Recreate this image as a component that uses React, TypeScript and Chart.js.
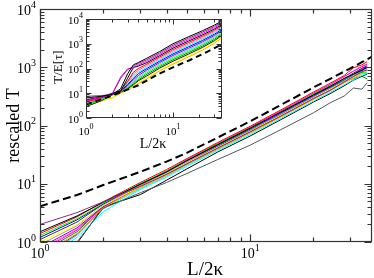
import React, { useEffect, useRef } from 'react';
import { Chart, registerables } from 'chart.js';

Chart.register(...registerables);

const SERIF = '"Liberation Serif", "DejaVu Serif", serif';

// ---------- main panel data ----------
const MAIN_X = [1, 1.5, 2, 3, 4, 5, 7, 10, 14, 20, 24, 28, 31, 34, 36];
const MAIN_DASH_X = [1, 1.5, 2, 3, 4, 5, 7, 10, 14, 20, 25, 30, 34, 38];
const MAIN_DASH_Y = [4.1, 6.4, 9.5, 16, 24, 34, 62, 118, 225, 450, 680, 960, 1220, 1520];

const M_COLORS = [
  '#8b2a8b', '#000000', '#ff0000', '#00ff00', '#0000ff', '#ffff00', '#bc8f8f', '#555555', '#9400d3',
  '#00ffff', '#ff00ff', '#ffa500', '#7220bc', '#000000', '#40e0d0', '#008b00', '#ff69b4', '#333333',
];
const M1 = [2.0, 3.2, 4.9, 9.0, 14.5, 22, 41, 78, 145, 290, 400, 560, 690, 830, 900];
const M2 = [1.5, 2.8, 4.8, 9.8, 16, 25, 47, 90, 170, 335, 470, 640, 760, 880, 1000];
const M3 = [1.4, 2.7, 4.9, 10.5, 17.5, 27, 51, 97, 185, 375, 530, 720, 980, 1100, 1240];
const M4 = [1.3, 2.5, 4.6, 10, 16.5, 25.5, 48, 90, 170, 345, 480, 620, 760, 820, 780];
const M5 = [1.2, 2.4, 4.5, 9.9, 16, 25, 46, 87, 164, 325, 455, 610, 750, 900, 990];
const M6 = [1.0, 2.0, 4.2, 9.0, 15, 23, 42, 80, 150, 300, 420, 570, 680, 820, 880];
const M7 = [0.9, 1.9, 4.3, 9.4, 15.5, 24, 45, 84, 158, 315, 440, 600, 720, 860, 950];
const M8 = [0.35, 1.0, 3.8, 7.0, 10.5, 15, 26, 46, 85, 165, 245, 320, 440, 420, 540];
const M9 = [0.8, 1.75, 4.1, 9.2, 15, 23.5, 44, 83, 156, 308, 435, 600, 760, 930, 1020];
const M10 = [0.45, 1.2, 3.3, 8.0, 13, 20, 37, 70, 132, 262, 370, 500, 610, 720, 780];
const M11 = [0.7, 1.6, 4.0, 9.7, 16.5, 26, 49, 93, 176, 355, 500, 690, 850, 1020, 1120];
const M12 = [0.6, 1.4, 3.9, 8.6, 14, 21.5, 39, 74, 140, 280, 395, 540, 650, 780, 860];
const M13 = [0.55, 1.35, 3.9, 9.0, 14.5, 22, 41, 78, 148, 296, 415, 565, 690, 840, 900];
const M14 = [0.3, 0.95, 4.0, 6.5, 11.5, 18, 35, 66, 126, 252, 352, 480, 600, 700, 760];
const M15 = [0.5, 1.3, 3.7, 8.3, 13.5, 21, 39, 75, 142, 284, 400, 545, 650, 770, 830];
const M16 = [0.65, 1.5, 4.1, 9.3, 15, 23, 44, 82, 155, 310, 430, 575, 640, 700, 630];
const M17 = [0.75, 1.65, 4.2, 9.8, 16.5, 26, 49, 93, 178, 360, 505, 690, 870, 1050, 1150];
const M18 = [1.1, 2.2, 4.5, 9.6, 16, 25, 47, 89, 168, 338, 470, 640, 790, 960, 1060];
const MAIN_SERIES = [M1, M2, M3, M4, M5, M6, M7, M8, M9, M10, M11, M12, M13, M14, M15, M16, M17, M18];

// ---------- inset data ----------
const IN_X = [1, 1.5, 2, 2.5, 3, 3.5, 4, 5, 7, 10, 15, 22, 30, 36.5];
const IN_DASH_X = [1, 2, 3, 4, 6.5, 10.8, 15.7, 25, 36.5];
const IN_DASH_Y = [3.5, 8, 14, 21, 55, 126, 220, 480, 950];

const I_COLORS = [
  '#000000', '#8b2a8b', '#ff00ff', '#000000', '#ff0000', '#ff69b4', '#00ffff', '#0000ff',
  '#9400d3', '#40e0d0', '#00ff00', '#008b00', '#1a1a1a', '#ffff00', '#ffa500',
];
const I1 = [6.5, 7.5, 9, 15, 60, 140, 175, 260, 480, 1000, 1900, 3400, 5700, 8300];
const I2 = [7.5, 8, 9, 40, 90, 120, 160, 227, 422, 873, 1663, 2985, 5050, 7430];
const I3 = [5, 7, 9.5, 45, 95, 105, 140, 198, 371, 762, 1452, 2624, 4477, 6637];
const I4 = [5.5, 7, 10, 12, 40, 110, 125, 172, 327, 666, 1270, 2307, 3963, 5943];
const I5 = [4.5, 6.5, 9.5, 13, 30, 70, 100, 150, 288, 581, 1110, 2028, 3516, 5321];
const I6 = [4.2, 6.2, 9.5, 12.5, 28, 60, 85, 131, 253, 508, 970, 1786, 3112, 4753];
const I7 = [4, 6, 9.5, 13, 25, 50, 72, 114, 223, 443, 849, 1570, 2761, 4256];
const I8 = [3.8, 6, 9.5, 12.5, 22, 40, 62, 100, 196, 387, 741, 1380, 2443, 3811];
const I9 = [5, 6.5, 9.5, 12, 20, 35, 52, 87, 172, 338, 649, 1213, 2168, 3412];
const I10 = [3.6, 5.8, 9.2, 12, 18, 30, 45, 76, 152, 295, 567, 1067, 1919, 3048];
const I11 = [3.2, 5.5, 9, 12, 17, 27, 40, 66, 133, 258, 495, 938, 1702, 2729];
const I12 = [3.5, 5.5, 9, 11.5, 16, 24, 35, 58, 117, 225, 433, 824, 1507, 2443];
const I13 = [2.9, 5, 8.5, 11, 15, 22, 32, 50, 103, 197, 378, 725, 1337, 2183];
const I14 = [3.3, 5, 6.3, 11, 15, 20, 28, 44, 91, 172, 331, 637, 1183, 1954];
const I15 = [3, 4.8, 6.5, 10, 14, 18, 25, 38, 80, 150, 290, 560, 1050, 1750];
const INSET_SERIES = [I1, I2, I3, I4, I5, I6, I7, I8, I9, I10, I11, I12, I13, I14, I15];

// tick labels (value, exponent)
const X_TICK_LABELS: [number, string][] = [[1, '0'], [10, '1']];
const Y_TICK_LABELS: [number, string][] = [[1, '0'], [10, '1'], [100, '2'], [1000, '3'], [10000, '4']];

type FrameCfg = {
  frameColor: string;
  frameWidth: number;
  major: number;
  minor: number;
  baseFont: string;
  supFont: string;
  supRaise: number;
  xLabelBaseline: number;
  yLabelRight: number;
  yLabelDy: number;
  xTitle: { text: string; x: number | null; y: number; font: string };
  yTitle: { text: string; x: number; y: number | null; font: string };
};

function framePlugin(cfg: FrameCfg) {
  return {
    id: 'frameTicks',
    afterDraw(chart: any) {
      const ctx: CanvasRenderingContext2D = chart.ctx;
      const a = chart.chartArea;
      const xs = chart.scales.x;
      const ys = chart.scales.y;
      const L = Math.round(a.left) + 0.5;
      const R = Math.round(a.right) - 0.5;
      const T = Math.round(a.top) + 0.5;
      const B = Math.round(a.bottom) - 0.5;
      ctx.save();
      ctx.strokeStyle = cfg.frameColor;
      ctx.lineWidth = cfg.frameWidth;
      ctx.strokeRect(L, T, R - L, B - T);
      ctx.beginPath();
      const decs = [0.1, 1, 10, 100, 1000, 10000];
      for (const d of decs) {
        for (let k = 1; k <= 9; k++) {
          const v = k * d;
          const len = k === 1 ? cfg.major : cfg.minor;
          if (v >= xs.min - 1e-9 && v <= xs.max + 1e-9) {
            const px = Math.round(xs.getPixelForValue(v)) + 0.5;
            ctx.moveTo(px, B); ctx.lineTo(px, B - len);
            ctx.moveTo(px, T); ctx.lineTo(px, T + len);
          }
          if (v >= ys.min - 1e-9 && v <= ys.max + 1e-9) {
            const py = Math.round(ys.getPixelForValue(v)) + 0.5;
            ctx.moveTo(L, py); ctx.lineTo(L + len, py);
            ctx.moveTo(R, py); ctx.lineTo(R - len, py);
          }
        }
      }
      ctx.stroke();

      ctx.fillStyle = '#000';
      ctx.textAlign = 'left';
      ctx.textBaseline = 'alphabetic';
      const measure = (t: string, f: string) => { ctx.font = f; return ctx.measureText(t).width; };
      for (const [v, e] of X_TICK_LABELS) {
        const px = xs.getPixelForValue(v);
        const wb = measure('10', cfg.baseFont);
        const we = measure(e, cfg.supFont);
        const sx = px - (wb + we) / 2;
        ctx.font = cfg.baseFont;
        ctx.fillText('10', sx, cfg.xLabelBaseline);
        ctx.font = cfg.supFont;
        ctx.fillText(e, sx + wb, cfg.xLabelBaseline - cfg.supRaise);
      }
      for (const [v, e] of Y_TICK_LABELS) {
        const py = ys.getPixelForValue(v);
        const wb = measure('10', cfg.baseFont);
        const we = measure(e, cfg.supFont);
        const sx = cfg.yLabelRight - (wb + we);
        ctx.font = cfg.baseFont;
        ctx.fillText('10', sx, py + cfg.yLabelDy);
        ctx.font = cfg.supFont;
        ctx.fillText(e, sx + wb, py + cfg.yLabelDy - cfg.supRaise);
      }
      // titles
      ctx.font = cfg.xTitle.font;
      ctx.textAlign = 'center';
      ctx.fillText(cfg.xTitle.text, cfg.xTitle.x ?? (a.left + a.right) / 2, cfg.xTitle.y);
      ctx.save();
      ctx.translate(cfg.yTitle.x, cfg.yTitle.y ?? (a.top + a.bottom) / 2);
      ctx.rotate(-Math.PI / 2);
      ctx.font = cfg.yTitle.font;
      ctx.fillText(cfg.yTitle.text, 0, 0);
      ctx.restore();
      ctx.restore();
    },
  };
}

function buildDatasets(xs: number[], series: number[][], colors: string[], dashX: number[], dashY: number[], dashWidth: number, dash: number[]) {
  const ds: any[] = [
    {
      data: dashX.map((x, i) => ({ x, y: dashY[i] })),
      borderColor: '#000',
      borderWidth: dashWidth,
      borderDash: dash,
      pointRadius: 0,
      tension: 0,
      clip: 0,
    },
  ];
  series.forEach((s, j) => {
    ds.push({
      data: xs.map((x, i) => ({ x, y: s[i] })),
      borderColor: colors[j % colors.length],
      borderWidth: 1,
      pointRadius: 0,
      tension: 0,
      clip: 0,
    });
  });
  return ds;
}

function scaleOpts(min: number, max: number, fit: (s: any) => void) {
  return {
    type: 'logarithmic' as const,
    min,
    max,
    ticks: { display: false },
    grid: { display: false },
    border: { display: false },
    afterFit: fit,
  };
}

export default function App() {
  const mainRef = useRef<HTMLCanvasElement>(null);
  const insetRef = useRef<HTMLCanvasElement>(null);

  useEffect(() => {
    const main = new Chart(mainRef.current!, {
      type: 'line',
      data: { datasets: buildDatasets(MAIN_X, MAIN_SERIES, M_COLORS, MAIN_DASH_X, MAIN_DASH_Y, 2, [8, 4]) },
      options: {
        responsive: false,
        animation: false,
        devicePixelRatio: 1,
        parsing: false as any,
        layout: { padding: { left: 0, top: 9, right: 2, bottom: 0 }, autoPadding: false } as any,
        plugins: { legend: { display: false }, tooltip: { enabled: false } },
        scales: {
          x: scaleOpts(1, 38, (s: any) => { s.height = 36; }),
          y: scaleOpts(1, 10000, (s: any) => { s.width = 40; }),
        } as any,
      },
      plugins: [
        framePlugin({
          frameColor: '#333',
          frameWidth: 1.2,
          major: 7,
          minor: 4,
          baseFont: `14px ${SERIF}`,
          supFont: `10px ${SERIF}`,
          supRaise: 7,
          xLabelBaseline: 258,
          yLabelRight: 36,
          yLabelDy: 5.5,
          xTitle: { text: 'L/2κ', x: 205, y: 275, font: `19px ${SERIF}` },
          yTitle: { text: 'rescaled T', x: 19, y: null, font: `18px ${SERIF}` },
        }),
      ],
    });

    const inset = new Chart(insetRef.current!, {
      type: 'line',
      data: { datasets: buildDatasets(IN_X, INSET_SERIES, I_COLORS, IN_DASH_X, IN_DASH_Y, 2, [6, 4]) },
      options: {
        responsive: false,
        animation: false,
        devicePixelRatio: 1,
        parsing: false as any,
        layout: { padding: { left: 0, top: 9, right: 8, bottom: 0 }, autoPadding: false } as any,
        plugins: { legend: { display: false }, tooltip: { enabled: false } },
        scales: {
          x: scaleOpts(1, 36.6, (s: any) => { s.height = 42; }),
          y: scaleOpts(1, 10000, (s: any) => { s.width = 46; }),
        } as any,
      },
      plugins: [
        framePlugin({
          frameColor: '#333',
          frameWidth: 1,
          major: 5,
          minor: 3,
          baseFont: `11px ${SERIF}`,
          supFont: `8px ${SERIF}`,
          supRaise: 6,
          xLabelBaseline: 125,
          yLabelRight: 43,
          yLabelDy: 4.5,
          xTitle: { text: 'L/2κ', x: 113, y: 138, font: `14px ${SERIF}` },
          yTitle: { text: 'T/E[τ]', x: 22, y: 57, font: `13px ${SERIF}` },
        }),
      ],
    });

    return () => {
      main.destroy();
      inset.destroy();
    };
  }, []);

  return (
    <div style={{ position: 'absolute', left: 0, top: 0, width: 374, height: 278, background: '#fff' }}>
      <canvas ref={mainRef} width={374} height={278} style={{ position: 'absolute', left: 0, top: 0, width: 374, height: 278 }} />
      <canvas ref={insetRef} width={190} height={150} style={{ position: 'absolute', left: 40, top: 10, width: 190, height: 150 }} />
    </div>
  );
}
